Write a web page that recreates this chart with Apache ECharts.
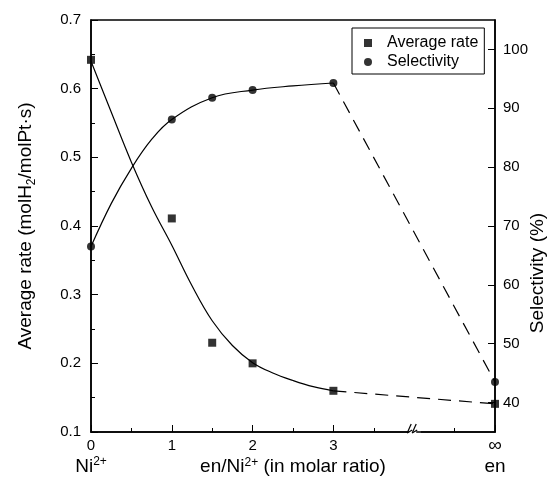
<!DOCTYPE html>
<html><head><meta charset="utf-8">
<script src="https://cdn.jsdelivr.net/npm/echarts@6/dist/echarts.min.js"></script>
<style>html,body{margin:0;padding:0;background:#fff}#c{width:549px;height:483px}</style>
</head><body><div id="c"></div>
<script>
// measured points
const rateX = [0, 1, 1.5, 2, 3, 5];
const rateY = [0.642, 0.411, 0.230, 0.200, 0.160, 0.141];
const selX = [0, 1, 1.5, 2, 3, 5];
const selY = [66.5, 88.1, 91.8, 93.1, 94.3, 43.5];
// fitted curves
const rateFitX = [0, 0.25, 0.5, 0.75, 1, 1.25, 1.5, 1.75, 2, 2.25, 2.5, 2.75, 3];
const rateFitY = [0.640, 0.566, 0.493, 0.428, 0.372, 0.313, 0.262, 0.226, 0.201, 0.186, 0.175, 0.166, 0.160];
const selFitX = [0, 0.25, 0.5, 0.75, 1, 1.5, 2, 2.5, 3];
const selFitY = [66.5, 73.8, 79.8, 84.7, 88.1, 91.8, 93.1, 93.8, 94.3];
// tick labels
const xTickLabels = {0: '0\n{big|Ni}{sup|2+}', 1: '1', 2: '2', 3: '3', 5: '{inf|∞}\n{big|en}'};
const rightTicks = [40, 50, 60, 70, 80, 90, 100];

const FONT = 'Liberation Sans, Arial, sans-serif';
const pairs = (xs, ys) => xs.map((x, i) => [x, ys[i]]);
const chart = echarts.init(document.getElementById('c'), null, {renderer: 'canvas'});
const black = '#000';
const axisCommon = {
  axisLine: {show: true, onZero: false, lineStyle: {color: black, width: 1.5}},
  axisTick: {show: true, inside: true, length: 7, lineStyle: {color: black, width: 1}},
  splitLine: {show: false},
  axisLabel: {color: black, fontSize: 15, fontFamily: FONT}
};
const opt = {
  animation: false,
  backgroundColor: '#fff',
  grid: {left: 91, right: 54, top: 20, bottom: 51, show: true, borderColor: black, borderWidth: 1.5,
         containLabel: false, outerBoundsMode: 'none'},
  legend: {
    data: [{name: 'Average rate', icon: 'rect'}, {name: 'Selectivity', icon: 'circle'}],
    orient: 'vertical', left: 352, top: 28,
    itemWidth: 8, itemHeight: 8, itemGap: 3,
    padding: [7, 6, 4, 12],
    borderColor: black, borderWidth: 1, backgroundColor: '#fff',
    textStyle: {fontSize: 16, color: black, fontFamily: FONT, padding: [0, 0, 0, 10]}
  },
  xAxis: Object.assign({}, axisCommon, {
    type: 'value', min: 0, max: 5, interval: 1,
    minorTick: {show: true, splitNumber: 2, length: 4, lineStyle: {color: black, width: 1}},
    axisLabel: {
      color: black, fontSize: 15, fontFamily: FONT, margin: 6, lineHeight: 16,
      formatter: v => (xTickLabels[v] !== undefined ? xTickLabels[v] : ''),
      rich: {
        big: {fontSize: 19, lineHeight: 26, fontFamily: FONT, color: black},
        sup: {fontSize: 12, lineHeight: 26, verticalAlign: 'top', fontFamily: FONT, color: black, padding: [2, 0, 0, 0]},
        inf: {fontSize: 19, lineHeight: 16, fontFamily: FONT, color: black}
      }
    }
  }),
  yAxis: [
    Object.assign({}, axisCommon, {
      type: 'value', min: 0.1, max: 0.7, interval: 0.1, position: 'left',
      minorTick: {show: true, splitNumber: 2, length: 4, lineStyle: {color: black, width: 1}},
      axisLabel: {color: black, fontSize: 15, fontFamily: FONT, margin: 10, formatter: v => v.toFixed(1)},
      name: '{a|Average rate (molH}{b|2}{a|/molPt·s)}',
      nameLocation: 'middle', nameGap: 53,
      nameTextStyle: {
        rich: {
          a: {fontSize: 19, lineHeight: 24, fontFamily: FONT, color: black},
          b: {fontSize: 12, lineHeight: 24, verticalAlign: 'bottom', fontFamily: FONT, color: black}
        }
      }
    }),
    Object.assign({}, axisCommon, {
      type: 'value', min: 35, max: 105, interval: 5, position: 'right',
      axisTick: {show: true, inside: true, length: 7, lineStyle: {color: black, width: 1}, customValues: rightTicks},
      axisLabel: {color: black, fontSize: 15, fontFamily: FONT, margin: 8, customValues: rightTicks}
    })
  ],
  series: [
    {name: 'rateFit', type: 'line', data: pairs(rateFitX, rateFitY), smooth: 0.4, symbol: 'none',
     lineStyle: {color: black, width: 1.2}, silent: true, z: 2},
    {name: 'rateDash', type: 'line', data: pairs(rateX.slice(4), rateY.slice(4)), symbol: 'none',
     lineStyle: {color: black, width: 1.2, type: [13, 8]}, silent: true, z: 2},
    {name: 'selFit', type: 'line', yAxisIndex: 1, data: pairs(selFitX, selFitY), smooth: 0.4, symbol: 'none',
     lineStyle: {color: black, width: 1.2}, silent: true, z: 2},
    {name: 'selDash', type: 'line', yAxisIndex: 1, data: pairs(selX.slice(4), selY.slice(4)), symbol: 'none',
     lineStyle: {color: black, width: 1.2, type: [13, 8]}, silent: true, z: 2},
    {name: 'Average rate', type: 'scatter', data: pairs(rateX, rateY), symbol: 'rect', symbolSize: 8,
     itemStyle: {color: black}, z: 5},
    {name: 'Selectivity', type: 'scatter', yAxisIndex: 1, data: pairs(selX, selY), symbol: 'circle', symbolSize: 8,
     itemStyle: {color: black}, z: 5}
  ]
};
chart.setOption(opt);

// axis break marks, x-axis title and right axis title
const bx = chart.convertToPixel({xAxisIndex: 0}, 4);
const by = chart.convertToPixel({yAxisIndex: 0}, 0.1);
const cx = (chart.convertToPixel({xAxisIndex: 0}, 0) + chart.convertToPixel({xAxisIndex: 0}, 5)) / 2;
chart.setOption({
  graphic: [
    {type: 'rect', shape: {x: bx - 6, y: by - 9, width: 12, height: 11}, style: {fill: '#fff'}, z: 100},
    {type: 'line', shape: {x1: bx - 2, y1: by - 2, x2: bx - 7, y2: by + 1}, style: {stroke: black, lineWidth: 1.2}, z: 101},
    {type: 'line', shape: {x1: bx - 7, y1: by + 1, x2: bx - 3, y2: by - 8}, style: {stroke: black, lineWidth: 1.2}, z: 101},
    {type: 'line', shape: {x1: bx + 3, y1: by - 2, x2: bx - 2, y2: by + 1}, style: {stroke: black, lineWidth: 1.2}, z: 101},
    {type: 'line', shape: {x1: bx - 2, y1: by + 1, x2: bx + 2, y2: by - 8}, style: {stroke: black, lineWidth: 1.2}, z: 101},
    {type: 'line', shape: {x1: bx - 6, y1: by, x2: bx - 5, y2: by}, style: {stroke: black, lineWidth: 1.5}, z: 101},
    {type: 'line', shape: {x1: bx + 2, y1: by, x2: bx + 6, y2: by}, style: {stroke: black, lineWidth: 1.5}, z: 101},
    {type: 'text', x: cx, y: by + 35,
     style: {text: '{a|en/Ni}{s|2+}{a| (in molar ratio)}', align: 'center', verticalAlign: 'middle',
       rich: {
         a: {fontSize: 19, lineHeight: 24, fontFamily: FONT, fill: black},
         s: {fontSize: 12, lineHeight: 24, verticalAlign: 'top', fontFamily: FONT, fill: black, padding: [2, 0, 0, 0]}
       }}, z: 101},
    {type: 'text', x: 538, y: 273, rotation: Math.PI / 2,
     style: {text: 'Selectivity (%)', fontSize: 19, fontFamily: FONT, fill: black, align: 'center', verticalAlign: 'middle'}, z: 101}
  ]
});
</script></body></html>
